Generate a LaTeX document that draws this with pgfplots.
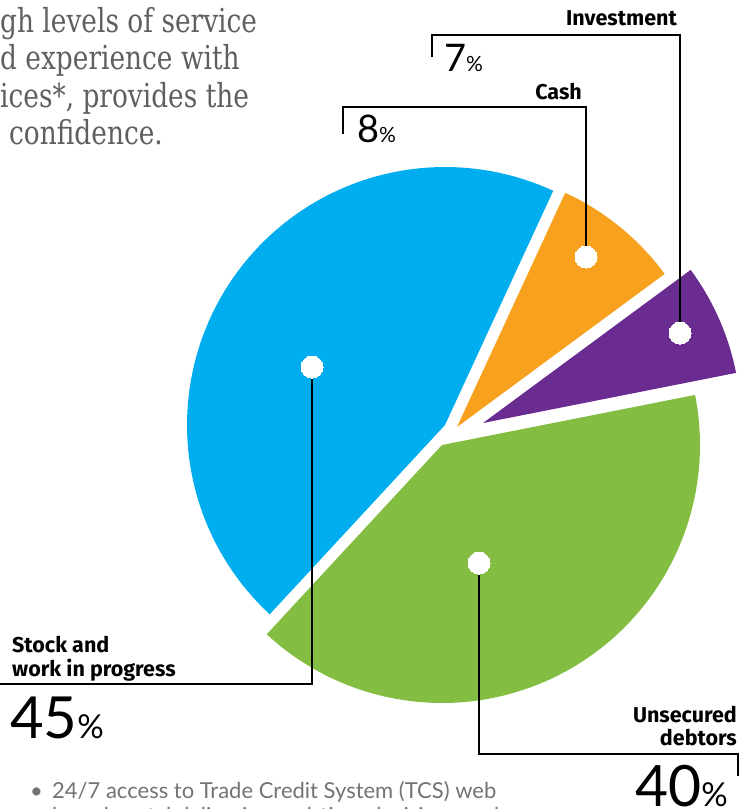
\documentclass[border=0pt]{standalone}
\usepackage{pgfplots}
\pgfplotsset{compat=1.18}
\usepackage{pgfplotstable}
\usepackage{fontspec}
\setmainfont{Lato}
\newfontfamily\labelfont{Fira Sans}
\newfontfamily\seriffont[FakeStretch=0.8]{DejaVu Serif}
\definecolor{cBlue}{RGB}{0,174,239}
\definecolor{cOrange}{RGB}{248,161,30}
\definecolor{cPurple}{RGB}{106,44,145}
\definecolor{cGreen}{RGB}{131,190,66}
\definecolor{cHead}{RGB}{95,95,95}
\definecolor{cBody}{RGB}{115,115,115}

% slice data: value in percent, apex of the exploded slice (pixel coordinates)
\pgfplotstableread{
label       value  apx  apy
Investment  7      483  423
Cash        8      457  427
Stock       45     445  425
Unsecured   40     442  445
}\piedata

\newcommand\R{258}
\newcommand\getval[3]{\pgfplotstablegetelem{#1}{#2}\of\piedata\edef#3{\pgfplotsretval}}

\newcommand\slice[5]{%
  \edef\tmp{\noexpand\addplot[fill=#1, draw=none, domain=#2:#3, samples=90, variable=\noexpand\t]
    ({#4+\R*cos(\noexpand\t)},{#5-\R*sin(\noexpand\t)}) -- (axis cs:#4,#5) -- cycle;}%
  \tmp}

\begin{document}
\begin{tikzpicture}
\getval{0}{value}\vA \getval{1}{value}\vB \getval{2}{value}\vC \getval{3}{value}\vD
\getval{0}{apx}\xA \getval{1}{apx}\xB \getval{2}{apx}\xC \getval{3}{apx}\xD
\getval{0}{apy}\yA \getval{1}{apy}\yB \getval{2}{apy}\yC \getval{3}{apy}\yD
\pgfmathsetmacro\aA{11.2}
\pgfmathsetmacro\aB{\aA+3.6*\vA}
\pgfmathsetmacro\aC{\aB+3.6*\vB}
\pgfmathsetmacro\aD{\aC+3.6*\vC}
\pgfmathsetmacro\aE{\aD+3.6*\vD}
\useasboundingbox (0,0) rectangle (756bp,809bp);
\begin{axis}[at={(0,0)}, anchor=south west, scale only axis,
  width=756bp, height=809bp, xmin=0, xmax=756, ymin=0, ymax=809,
  y dir=reverse, hide axis, clip=false]
\slice{cPurple}{\aA}{\aB}{\xA}{\yA}
\slice{cOrange}{\aB}{\aC}{\xB}{\yB}
\slice{cBlue}{\aC}{\aD}{\xC}{\yC}
\slice{cGreen}{\aD}{\aE}{\xD}{\yD}

% leader lines
\addplot[black, line width=1.3bp] coordinates {(680,333) (680,35) (432,35) (432,57)};
\addplot[black, line width=1.3bp] coordinates {(586,257) (586,107) (343,107) (343,134)};
\addplot[black, line width=1.3bp] coordinates {(312,367) (312,684) (-10,684)};
\addplot[black, line width=1.3bp] coordinates {(479,563) (479,754) (738,754) (738,776)};
% white dots
\addplot[only marks, mark=*, mark size=11bp, mark options={fill=white, draw=white, line width=0pt}]
  coordinates {(312,367) (586,257) (680,333) (479,563)};

% labels
\begin{scope}[every node/.style={inner sep=0, font=\labelfont\fontsize{21.5bp}{24bp}\selectfont\bfseries}]
\node[anchor=base east] at (axis cs:677,26) {Investment};
\node[anchor=base east] at (axis cs:582,100) {Cash};
\node[anchor=base west] at (axis cs:12,652) {Stock and};
\node[anchor=base west] at (axis cs:12,676) {work in progress};
\node[anchor=base east] at (axis cs:737,722) {Unsecured};
\node[anchor=base east] at (axis cs:737,745) {debtors};
\end{scope}
\node[anchor=base west, inner sep=0] at (axis cs:444,72) {\fontsize{38bp}{40bp}\selectfont 7\fontsize{21bp}{24bp}\selectfont\%};
\node[anchor=base west, inner sep=0] at (axis cs:357,143) {\fontsize{38bp}{40bp}\selectfont 8\fontsize{21bp}{24bp}\selectfont\%};
\node[anchor=base west, inner sep=0] at (axis cs:10,738) {\fontsize{58bp}{60bp}\selectfont 45\fontsize{33bp}{36bp}\selectfont\%};
\node[anchor=base east, inner sep=0] at (axis cs:728,806) {\fontsize{57bp}{60bp}\selectfont 40\fontsize{33bp}{36bp}\selectfont\%};

% heading text (cut at the left edge)
\begin{scope}[every node/.style={anchor=base west, inner sep=0, text=cHead, font=\seriffont\fontsize{33bp}{36bp}\selectfont}]
\node at (axis cs:0,33) {gh levels of service};
\node at (axis cs:0,70) {d experience with};
\node at (axis cs:0,108) {ices*, provides the};
\node at (axis cs:9,145) {confidence.};
\end{scope}

% body text
\begin{scope}[every node/.style={anchor=base west, inner sep=0, text=cBody, font=\fontsize{22bp}{26bp}\selectfont}]
\node at (axis cs:30,798) {\textbullet};
\node at (axis cs:52,798) {24/7 access to Trade Credit System (TCS) web};
\node at (axis cs:52,823) {based portal delivering real-time decisions and easy};
\end{scope}
\end{axis}
\end{tikzpicture}
\end{document}
